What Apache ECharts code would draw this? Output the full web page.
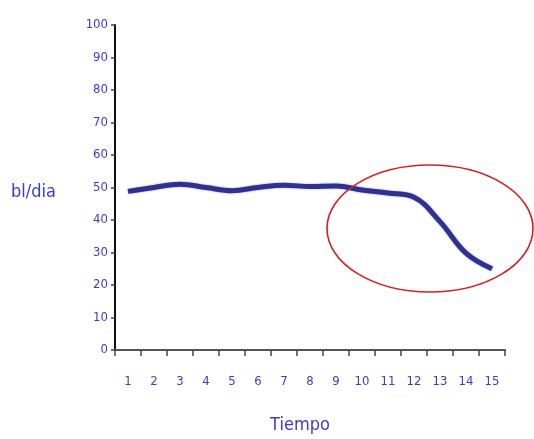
<!DOCTYPE html>
<html>
<head>
<meta charset="utf-8">
<script src="https://cdn.jsdelivr.net/npm/echarts@6/dist/echarts.min.js"></script>
<style>
  html, body { margin: 0; padding: 0; background: #ffffff; }
  #chart { width: 534px; height: 439px; }
</style>
</head>
<body>
<div id="chart"></div>
<script>
// Production over time (bl/dia)
const tiempo = ['1','2','3','4','5','6','7','8','9','10','11','12','13','14','15'];
const produccion = [48.8, 50, 51, 50, 49, 50, 50.7, 50.3, 50.5, 49.2, 48.3, 47, 39.5, 29.8, 25];

const FONT = '"DejaVu Sans Condensed", "Liberation Sans Narrow", "Liberation Sans", Arial, sans-serif';
const LABEL_BLUE = '#3b3bcf';

const chart = echarts.init(document.getElementById('chart'), null, { renderer: 'canvas' });

chart.setOption({
  backgroundColor: '#ffffff',
  animation: false,
  grid: { left: 115, right: 29, top: 25, bottom: 89, containLabel: false },
  xAxis: {
    type: 'category',
    data: tiempo,
    boundaryGap: true,
    name: 'Tiempo',
    nameLocation: 'middle',
    nameGap: 66,
    nameTextStyle: { color: LABEL_BLUE, fontFamily: FONT, fontSize: 18, padding: [0, 20, 0, 0] },
    axisLine: { show: true, lineStyle: { color: '#555555', width: 2 } },
    axisTick: { show: true, length: 6, lineStyle: { color: '#444444', width: 1.5 } },
    axisLabel: { color: LABEL_BLUE, fontFamily: FONT, fontSize: 13, margin: 25 },
    splitLine: { show: false }
  },
  yAxis: {
    type: 'value',
    min: 0,
    max: 100,
    interval: 10,
    axisLine: { show: true, lineStyle: { color: '#111111', width: 2 } },
    axisTick: { show: true, length: 4, lineStyle: { color: '#444444', width: 1.5 } },
    axisLabel: { color: LABEL_BLUE, fontFamily: FONT, fontSize: 13, margin: 7 },
    splitLine: { show: false }
  },
  series: [{
    type: 'line',
    data: produccion,
    smooth: 0.4,
    symbol: 'none',
    lineStyle: { color: '#2e3192', width: 5, shadowColor: 'rgba(46,49,146,0.5)', shadowBlur: 2 }
  }],
  graphic: [{
    // unit label to the left of the value axis
    type: 'text',
    x: 56,
    y: 192,
    style: {
      text: 'bl/dia',
      fill: LABEL_BLUE,
      font: '18px ' + FONT,
      align: 'right',
      verticalAlign: 'middle'
    }
  }, {
    // red ring highlighting the production decline
    type: 'ellipse',
    shape: { cx: 430, cy: 228.5, rx: 103, ry: 63.5 },
    style: { fill: 'none', stroke: '#d42020', lineWidth: 1.6 },
    z: 10
  }]
});
</script>
</body>
</html>
